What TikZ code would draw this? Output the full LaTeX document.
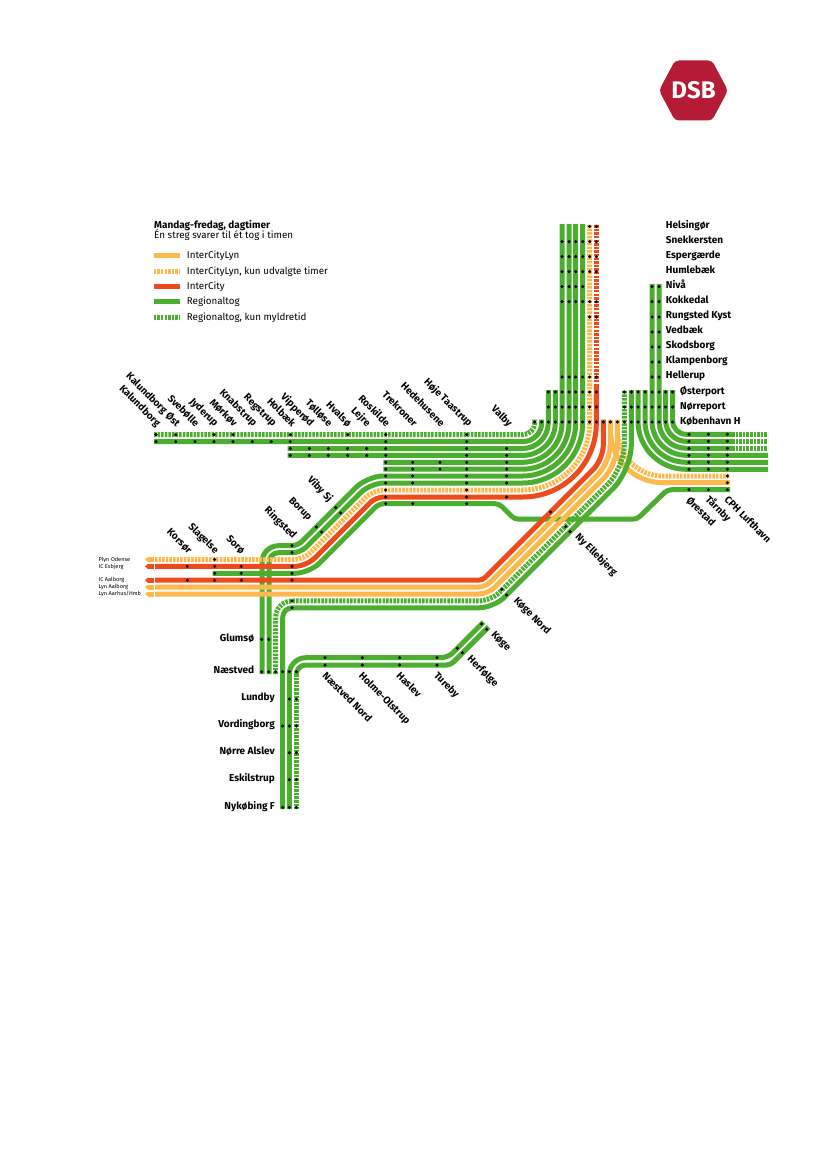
\documentclass[tikz,border=0pt]{standalone}
\usepackage{fontspec}
\setmainfont{Fira Sans}
\usetikzlibrary{arrows.meta}
\definecolor{dsbred}{HTML}{B51B34}
\definecolor{regiongreen}{HTML}{4BAE2F}
\definecolor{lynyellow}{HTML}{FDB94E}
\definecolor{icred}{HTML}{EE4A1B}

\begin{document}
\begin{tikzpicture}[
  x=1pt, y=-1pt,
  track/.style={line width=5pt},
  regional/.style={track, color=regiongreen},
  lyn/.style={track, color=lynyellow},
  ic/.style={track, color=icred},
  ticks/.style={dash pattern=on 2.5pt off 1.1pt},
  stop/.style={circle, fill=black, inner sep=0pt, minimum size=3.5pt},
  stn/.style={font=\fontsize{10}{11}\selectfont\bfseries, inner sep=0pt, text height=7.3pt, text depth=2.2pt},
  stnup/.style={stn, rotate=-45, anchor=east},
  stndown/.style={stn, rotate=-45, anchor=west},
  lgd/.style={font=\fontsize{9.8}{11}\selectfont, anchor=west, inner sep=0pt, text height=7.3pt, text depth=2.2pt},
  dest/.style={font=\fontsize{5.6}{7}\selectfont, anchor=west, inner sep=0pt}
]
  \useasboundingbox (0,0) rectangle (827,1169);

  % Logo
  \fill[dsbred, rounded corners=4pt] (659,90.5) -- (675,60.5) -- (712,60.5) -- (728,90.5) -- (712,120.5) -- (675,120.5) -- cycle;
  \node[font=\fontsize{24}{24}\selectfont\bfseries, text=white, inner sep=0pt] (logo) at (693.5,90.5) {DSB};

  % Legend
  \node[lgd, font=\fontsize{10}{11}\selectfont\bfseries] (title) at (154,225.5) {Mandag-fredag, dagtimer};
  \node[lgd] (subtitle) at (154,236.2) {Én streg svarer til ét tog i timen};
  \draw[lyn] (153.7,255.7) -- (180,255.7);
  \draw[lyn, ticks] (153.7,271.7) -- (180,271.7);
  \draw[ic] (153.7,286.5) -- (180,286.5);
  \draw[regional] (153.7,301.7) -- (180,301.7);
  \draw[regional, ticks] (153.7,317) -- (180,317);
  \node[lgd] (lgdlyn) at (186.7,256.2) {InterCityLyn};
  \node[lgd] (lgdkun) at (186.7,272.2) {InterCityLyn, kun udvalgte timer};
  \node[lgd] (lgdic) at (186.7,287) {InterCity};
  \node[lgd] (lgdreg) at (186.7,302.2) {Regionaltog};
  \node[lgd] (lgdmyl) at (186.7,317.5) {Regionaltog, kun myldretid};

  % Yellow branches to the airport
  \draw[lyn, rounded corners=52.7pt] (610.3,425) -- (610.3,482.7) -- (730,482.7);
  \draw[lyn, ticks, rounded corners=45.8pt] (617.3,435) -- (617.3,476) -- (730,476);

  % Vest, concentric into the tunnel
  \draw[regional, ticks, rounded corners=12pt] (154,434.7) -- (534.7,434.7) -- (534.7,419.5);
  \foreach \sx/\ry/\cx/\tip in {154/441.6/541.7/419.5, 287.5/448.5/548.3/390, 287.5/455.4/555.3/390, 383.3/462.3/562/224, 383.3/469.2/569/224} {
    \pgfmathsetmacro\rad{\cx-522.7}
    \draw[regional, rounded corners=\rad pt] (\sx,\ry) -- (\cx,\ry) -- (\cx,\tip);
  }

  % Ringsted lines
  \draw[regional] (262,674) [rounded corners=16.5pt] -- (262,545.7) [rounded corners=6pt] -- (297.7,545.7) [rounded corners=16pt] -- (367.4,476) [rounded corners=53pt] -- (575.7,476) -- (575.7,224);
  \draw[regional] (269,674) [rounded corners=9.5pt] -- (269,552.7) [rounded corners=8pt] -- (300.7,552.7) [rounded corners=13.5pt] -- (370.4,483) [rounded corners=60pt] -- (582.7,483) -- (582.7,224);
  \draw[regional] (212.7,573.3) [rounded corners=14.5pt] -- (309.3,573.3) [rounded corners=5pt] -- (378.9,503.7) [rounded corners=4pt] -- (499,503.7) -- (514.5,519.2) -- (637,519.2) -- (667.5,489.7) -- (730,489.7);

  \draw[lyn, ticks] (155,559.5) [rounded corners=10pt] -- (303.5,559.5) [rounded corners=11pt] -- (373,490) [rounded corners=67pt] -- (589.7,490) -- (589.7,224);
  \draw[ic] (155,566.4) [rounded corners=12pt] -- (306.4,566.4) [rounded corners=8pt] -- (375.8,497) [rounded corners=73.6pt] -- (596.3,497) -- (596.3,386);
  \draw[ic, ticks] (596.3,386) -- (596.3,224);

  % Lines through Ny Ellebjerg
  \draw[ic] (155,580.2) [rounded corners=4pt] -- (482.5,580.2) [rounded corners=14.4pt] -- (603.3,459.4) -- (603.3,419.5);
  \draw[lyn] (155,587.1) [rounded corners=6.8pt] -- (485.35,587.1) [rounded corners=17.3pt] -- (610.3,462.15) -- (610.3,419.5);
  \draw[lyn] (155,594) [rounded corners=9.6pt] -- (488.2,594) [rounded corners=20.1pt] -- (617.3,464.9) -- (617.3,419.5);
  \draw[regional, ticks] (275.7,674) [rounded corners=16.5pt] -- (275.7,600.9) [rounded corners=12.4pt] -- (491.05,600.9) [rounded corners=23pt] -- (624.3,467.65) -- (624.3,390);
  \draw[regional] (282.7,809) [rounded corners=9.5pt] -- (282.7,607.8) [rounded corners=15pt] -- (493.9,607.8) [rounded corners=25.9pt] -- (631.3,470.4) -- (631.3,390);

  % Arrow heads of the western lines
  \foreach \ry/\col in {559.5/lynyellow, 566.4/icred, 580.2/icred, 587.1/lynyellow, 594/lynyellow}
    \draw[track, color=\col, -{Triangle[length=3pt, width=5pt]}] (153.6,\ry) -- (145,\ry);

  % Nordvest, concentric from the coast line
  \foreach \cx/\ry/\tip/\endx in {638/469.3/390/768, 645/462.3/390/768, 652/455.3/284/768, 659/448.3/284/732, 665.7/441.3/390/732, 672.7/434.3/390/732} {
    \pgfmathsetmacro\rad{686-\cx}
    \draw[regional, rounded corners=\rad pt] (\cx,\tip) -- (\cx,\ry) -- (\endx,\ry);
  }
  \foreach \ry in {434.3, 441.3, 448.3}
    \draw[regional, ticks] (732,\ry) -- (768,\ry);

  % Sydbanen
  \draw[regional] (289.3,809) [rounded corners=16.5pt] -- (289.3,657.7) [rounded corners=7pt] -- (448,657.7) -- (483.5,622.2);
  \draw[regional] (296.3,674) [rounded corners=9.5pt] -- (296.3,665) [rounded corners=4pt] -- (450.5,665) -- (488.5,627);
  \draw[regional, ticks] (296.3,674) -- (296.3,809);

  % Stops on the rows
  \foreach \ry/\xs [count=\r] in {
      434.7/{156,175.7,214,233,290.3,347.7,385.7,466.7},
      441.6/{156,175.7,195,214,233,252.3,271.3,290.3,385.7,466.7},
      448.5/{290.3,309.3,328.3,347.7,366.7,385.7,466.7,506.7},
      455.4/{290.3,309.3,328.3,347.7,366.7,385.7,466.7,506.7},
      462.3/{385.7,412.7,440,466.7,506.7},
      469.2/{385.7,412.7,440,466.7,506.7},
      476/{385.7,412.7,466.7,506.7},
      483/{385.7,412.7,466.7,506.7},
      490/{385.7,466.7},
      497/{385.7,466.7,506.7},
      503.7/{385.7,412.7,466.7},
      545.7/{292}, 552.7/{292}, 559.5/{214.7},
      566.4/{187.3,214.7,241.3,292},
      573.3/{214.7,241.3,292},
      580.2/{187.3,214.7,241.3,292},
      600.9/{292}, 607.8/{292},
      657.7/{325,362.3,399.7,437}, 665/{325,362.3,399.7,437},
      434.3/{689,708.3,727.3}, 441.3/{689,708.3,727.3}, 448.3/{689,708.3,727.3},
      455.3/{689,708.3,727.3}, 462.3/{689,708.3,727.3}, 469.3/{689,708.3,727.3},
      476/{727.3}, 482.7/{727.3}, 489.7/{689,708.3,727.3},
      226.5/{589.7,596.3},
      241.7/{562,569,575.7,582.7,589.7,596.3},
      256.7/{562,569,575.7,582.7,589.7,596.3},
      271.7/{562,569,575.7,582.7,589.7,596.3},
      286.7/{562,569,575.7,582.7,652,659},
      301.7/{562,569,575.7,582.7,589.7,596.3,652,659},
      317/{589.7,596.3,652,659}, 332/{652,659}, 347/{652,659}, 362/{652,659},
      377/{562,569,575.7,582.7,589.7,596.3,652,659},
      392/{548.3,555.3,562,569,575.7,582.7,589.7,596.3,624.3,631.3,638,645,652,659,665.7,672.7},
      407/{548.3,555.3,562,569,575.7,582.7,589.7,596.3,624.3,631.3,638,645,652,659,665.7,672.7},
      422/{534.7,541.7,548.3,555.3,562,569,575.7,582.7,589.7,596.3,603.3,610.3,617.3,624.3,631.3,638,645,652,659,665.7,672.7},
      639.3/{261.7,268.7},
      671.7/{261.7,268.7,275.7,282.7,289.3,296.3},
      699/{289.3,296.3}, 726/{282.7,289.3,296.3}, 752.7/{289.3,296.3},
      779.7/{289.3,296.3}, 807.3/{282.7,289.3,296.3}}
    \foreach \sx [count=\c] in \xs
      \node[stop] (stop\r-\c) at (\sx,\ry) {};

  % Stops on the diagonals
  \node[stop] (viby1) at (335.7,507.7) {};
  \node[stop] (viby2) at (340.7,513) {};
  \node[stop] (borup1) at (316.3,527) {};
  \node[stop] (borup2) at (321.7,532) {};
  \node[stop] (ellebjerg0) at (550.7,512) {};
  \node[stop] (ellebjerg1) at (565.7,526.7) {};
  \node[stop] (ellebjerg2) at (570,531.7) {};
  \node[stop] (kogenord1) at (501.7,589.3) {};
  \node[stop] (kogenord2) at (506.7,595) {};
  \node[stop] (herfolge1) at (457.3,648.3) {};
  \node[stop] (herfolge2) at (462.3,652.7) {};
  \node[stop] (koge1) at (481.7,624) {};
  \node[stop] (koge2) at (486.7,629.3) {};

  % Names, upper side
  \foreach \nm/\ex [count=\i] in {Kalundborg/158.5, Kalundborg Øst/178, Svebølle/197, Jyderup/216.2, Mørkøv/235.2, Knabstrup/255, Regstrup/274.5, Holbæk/293.5, Vipperød/311.8, Tølløse/330.2, Hvalsø/349.2, Lejre/368.5, Roskilde/387.8, Trekroner/415.2, Hedehusene/442.5, Høje Taastrup/470.2, Valby/510.2}
    \node[stnup] (north\i) at (\ex,425.5) {\nm};
  \node[stnup] (vibysj) at (330.5,500.5) {Viby Sj};
  \node[stnup] (borup) at (310,519) {Borup};
  \node[stnup] (ringsted) at (294.5,537.5) {Ringsted};
  \node[stnup] (korsor) at (190,552.5) {Korsør};
  \node[stnup] (slagelse) at (216.7,552.5) {Slagelse};
  \node[stnup] (soro) at (242.7,552.5) {Sorø};

  % Names, lower side
  \node[stndown] (nyelle) at (576.5,535.5) {Ny Ellebjerg};
  \node[stndown] (kogenord) at (515,599.5) {Køge Nord};
  \node[stndown] (orestad) at (687.5,499.5) {Ørestad};
  \node[stndown] (tarnby) at (706.5,498.5) {Tårnby};
  \node[stndown] (cph) at (725.5,498.5) {CPH Lufthavn};
  \node[stndown] (koge) at (492.5,633.5) {Køge};
  \node[stndown] (herfolge) at (468.5,657.5) {Herfølge};
  \node[stndown] (naestvednord) at (323.5,674.5) {Næstved Nord};
  \node[stndown] (holme) at (360,674.5) {Holme-Olstrup};
  \node[stndown] (haslev) at (397.5,674.5) {Haslev};
  \node[stndown] (tureby) at (435,674.5) {Tureby};

  % Names, coast line
  \foreach \nm/\ry [count=\i] in {Helsingør/226, Snekkersten/241, Espergærde/256, Humlebæk/271, Nivå/286, Kokkedal/301, Rungsted Kyst/316, Vedbæk/331, Skodsborg/346, Klampenborg/361, Hellerup/376}
    \node[stn, anchor=west] (coast\i) at (665.7,\ry) {\nm};
  \node[stn, anchor=west] (osterport) at (680,392) {Østerport};
  \node[stn, anchor=west] (norreport) at (680,407) {Nørreport};
  \node[stn, anchor=west] (kbh) at (680,421.5) {København H};

  % Names, south
  \node[stn, anchor=east] (glumso) at (254.3,639.3) {Glumsø};
  \node[stn, anchor=east] (naestved) at (254.3,671) {Næstved};
  \foreach \nm/\ry [count=\i] in {Lundby/698, Vordingborg/725.3, Nørre Alslev/752, Eskilstrup/779, Nykøbing F/806.7}
    \node[stn, anchor=east] (south\i) at (275,\ry) {\nm};

  % Destinations
  \node[dest] (plyn) at (98.5,559.5) {Plyn Odense};
  \node[dest] (esbjerg) at (98.5,567) {IC Esbjerg};
  \node[dest] (aalborg) at (98.5,580) {IC Aalborg};
  \node[dest] (lynaalborg) at (98.5,587.3) {Lyn Aalborg};
  \node[dest] (aarhus) at (98.5,594.3) {Lyn Aarhus/Hmb};
\end{tikzpicture}
\end{document}
